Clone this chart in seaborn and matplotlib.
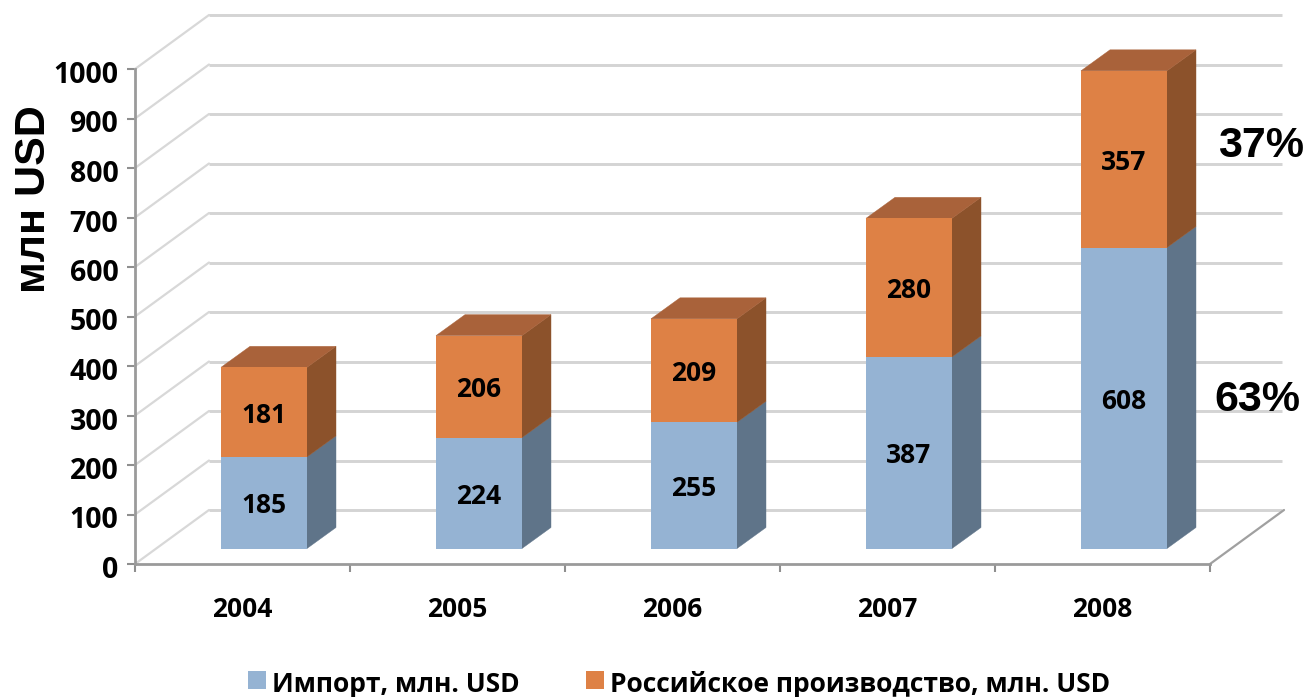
import matplotlib
matplotlib.use("Agg")
import matplotlib.pyplot as plt
from matplotlib.patches import Polygon, Rectangle
from matplotlib.transforms import ScaledTranslation
import pandas as pd
import seaborn as sns

years = ["2004", "2005", "2006", "2007", "2008"]
import_vals = [185, 224, 255, 387, 608]
russia_vals = [181, 206, 209, 280, 357]
ticks = list(range(0, 1001, 100))
series_names = ["Импорт, млн. USD", "Российское производство, млн. USD"]
share_labels = ["37%", "63%"]
y_label = "млн USD"

W, H = 1305, 697
sns.set_theme(style="white")
UI = ["Open Sans", "DejaVu Sans"]
HEAD = ["Liberation Sans", "DejaVu Sans"]

fig = plt.figure(figsize=(W / 100, H / 100), dpi=100, facecolor="white")
L, R, T, B = 135, 1210, 69, 564
ax = fig.add_axes([L / W, 1 - B / H, (R - L) / W, (B - T) / H])
ax.set_facecolor("none")

df = pd.DataFrame({"year": years, "imp": import_vals, "rus": russia_vals})
BLUE, ORANGE = "#95B3D3", "#DE8145"
sns.barplot(data=df, x="year", y="imp", color=BLUE, saturation=1, width=0.4, ax=ax, zorder=5)
sns.barplot(data=df, x="year", y="rus", bottom=df["imp"], color=ORANGE, saturation=1, width=0.4, ax=ax, zorder=5)
ax.set_xlim(-0.5, 4.5)
ax.set_ylim(0, 1000)

px_x = (R - L) / 5
px_y = (B - T) / 1000
def px_shift(dx, dy):
    return ScaledTranslation(dx / 100, dy / 100, fig.dpi_scale_trans)
tr = ax.transData + px_shift(21.5, 15.5)
for p in ax.patches:
    p.set_transform(tr)
    p.set_linewidth(0)

# depth of the bars and of the chart's walls, in data units
bdx, bdy = 29 / px_x, 21 / px_y
wdx, wdy = 74 / px_x, 54 / px_y
GRID = "#D4D4D4"


def poly(verts, color, z, transform=None):
    ax.add_patch(Polygon(verts, closed=True, facecolor=color, edgecolor=color, lw=0.3,
                         zorder=z, transform=transform or ax.transData, clip_on=False))


# walls and grid
for t in ticks:
    ax.plot([-0.5, -0.5 + wdx], [t, t + wdy], color="#D8D8D8", lw=1.6, clip_on=False, zorder=1)
    ax.plot([-0.5 + wdx, 4.5 + wdx - 0.01], [t + wdy, t + wdy], color=GRID, lw=2.1,
            clip_on=False, zorder=1, solid_capstyle="butt")
ax.plot([4.5, 4.5 + wdx], [0, wdy], color="#A0A0A0", lw=1.6, clip_on=False, zorder=1)

# 3-D faces of the bars
lab_tr = tr + px_shift(0, -3)
for i in range(len(years)):
    a, b = i - 0.2, i + 0.2
    v0, v1, v2 = 0, import_vals[i], import_vals[i] + russia_vals[i]
    poly([(b, v0), (b + bdx, v0 + bdy), (b + bdx, v1 + bdy), (b, v1)], "#5F7489", 4, tr)
    poly([(b, v1), (b + bdx, v1 + bdy), (b + bdx, v2 + bdy), (b, v2)], "#8C522B", 4, tr)
    poly([(a, v2), (a + bdx, v2 + bdy), (b + bdx, v2 + bdy), (b, v2)], "#A9623A", 4, tr)
    ax.text(i, v0 + import_vals[i] / 2, str(import_vals[i]), ha="center", va="center", transform=lab_tr,
            fontsize=19, fontweight="bold", family=UI, color="black", zorder=8)
    ax.text(i, v1 + russia_vals[i] / 2, str(russia_vals[i]), ha="center", va="center", transform=lab_tr,
            fontsize=19, fontweight="bold", family=UI, color="black", zorder=8)

# axes
for s in ["top", "right"]:
    ax.spines[s].set_visible(False)
for s in ["left", "bottom"]:
    ax.spines[s].set_color("#9A9A9A")
    ax.spines[s].set_linewidth(2)
ax.set_yticks(ticks)
ax.set_xticks([x - 0.5 for x in range(6)], minor=True)
ax.set_xticks(range(5))
ax.set_xticklabels(years)
ax.tick_params(axis="x", which="minor", length=6, width=1.5, color="#8F8F8F", direction="out", bottom=True)
ax.tick_params(axis="x", which="major", length=0, pad=23)
ax.tick_params(axis="y", length=6, width=1.5, color="#8F8F8F", direction="out", left=True, pad=6)
for lab in ax.get_xticklabels():
    lab.set(fontsize=19, fontweight="bold", family=UI, color="black")
for lab in ax.get_yticklabels():
    lab.set(fontsize=20.5, fontweight="bold", family=UI, color="black")
    lab.set_transform(lab.get_transform() + px_shift(0, -3))
ax.set_xlabel("")
ax.set_ylabel("")

fig.text(34 / W, 1 - 199 / H, y_label, rotation=90, ha="center", va="center", fontsize=31,
         fontweight="bold", family=HEAD, color="black")
fig.text(1261 / W, 1 - 146 / H, share_labels[0], ha="center", va="center", fontsize=31,
         fontweight="bold", family=HEAD, color="black")
fig.text(1257 / W, 1 - 400 / H, share_labels[1], ha="center", va="center", fontsize=31,
         fontweight="bold", family=HEAD, color="black")

# legend
for x0, c, name in [(248, BLUE, series_names[0]), (586, ORANGE, series_names[1])]:
    fig.add_artist(Rectangle((x0 / W, 1 - 689 / H), 18 / W, 18 / H, transform=fig.transFigure,
                             facecolor=c, edgecolor="none"))
    fig.text((x0 + 24) / W, 1 - 685 / H, name, ha="left", va="center", fontsize=19,
             fontweight="bold", family=UI, color="black")

fig.savefig("out.png", dpi=100)
